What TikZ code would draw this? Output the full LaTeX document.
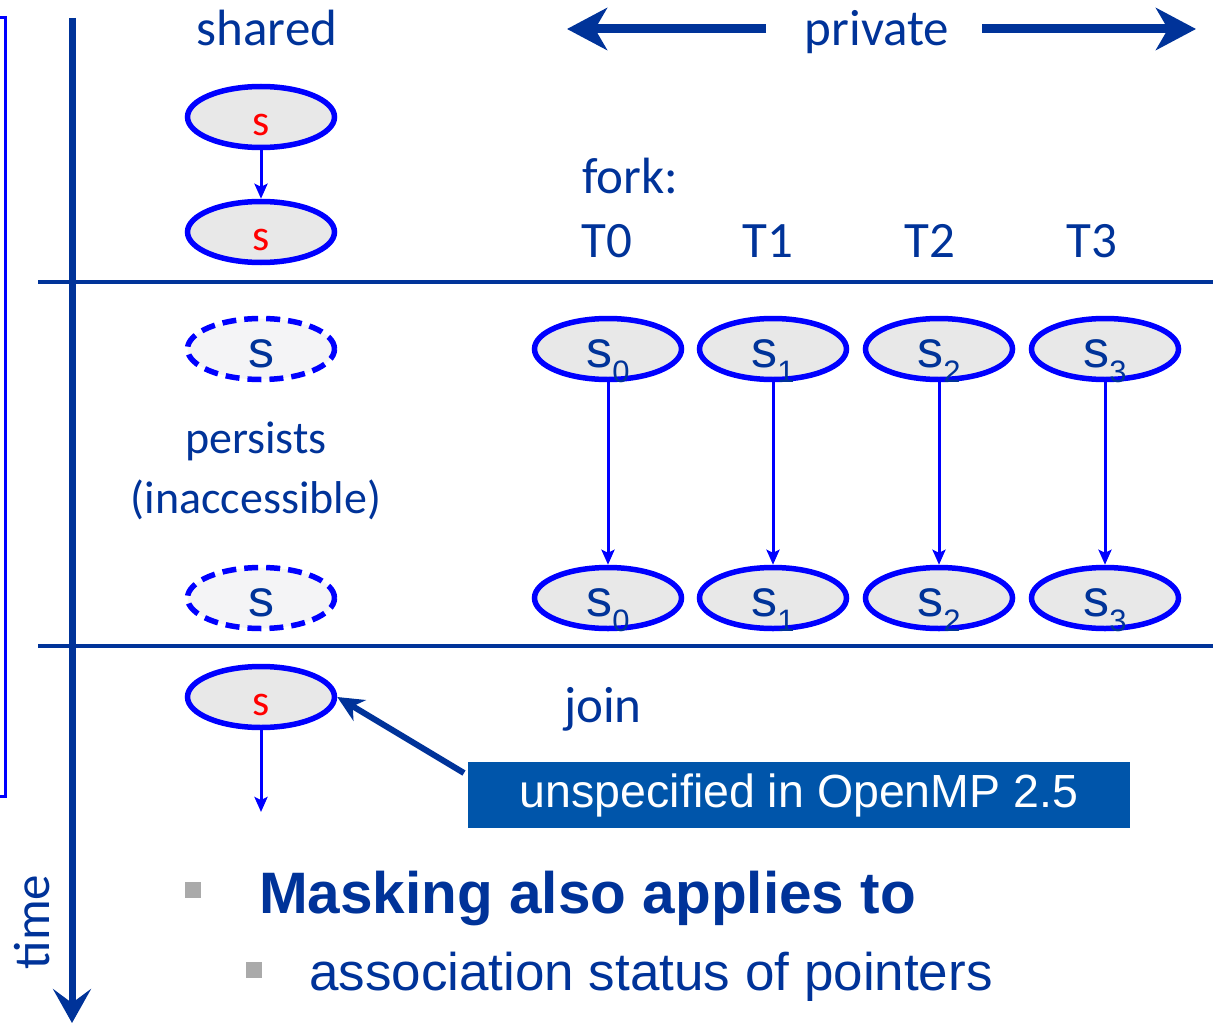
\documentclass[tikz,border=0pt]{standalone}
\usepackage{fontspec}
\usetikzlibrary{arrows.meta,shapes.geometric}
\newfontfamily\calfont{Carlito}
\newfontfamily\arifont{Liberation Sans}
\definecolor{navy}{RGB}{0,51,153}
\definecolor{boxblue}{RGB}{0,85,170}
\definecolor{cellgray}{RGB}{232,232,232}
\definecolor{ghostgray}{RGB}{244,244,246}
\definecolor{bulletgray}{RGB}{170,170,170}
\newcommand{\fsz}[1]{\fontsize{#1}{#1}\selectfont}
\newcommand{\idx}[1]{\smash{\raisebox{-15pt}{\fsz{31}#1}}}
\tikzset{
  var/.style={ellipse, draw=blue, line width=5.5pt, fill=cellgray,
    minimum width=147pt, minimum height=61pt, inner sep=0pt,
    text height=34pt, text depth=0pt},
  sharedvar/.style={var, text=red, font=\calfont\fsz{44}, text height=36pt},
  privvar/.style={var, text=navy, font=\arifont\fsz{52}, text height=36pt},
  ghostvar/.style={privvar, fill=ghostgray, dash pattern=on 14pt off 8pt},
  lbl/.style={text=navy, font=\calfont\fsz{51}, inner sep=0pt},
  flow/.style={draw=blue, line width=3pt, -{Stealth[length=15pt,width=13pt,inset=3pt]}},
  rule/.style={draw=navy, line width=4pt},
  widearrow/.style={draw=navy, line width=9pt, -{Stealth[length=40pt,width=42pt,inset=12pt]}},
}
\begin{document}
\begin{tikzpicture}[x=1pt,y=-1pt]
\useasboundingbox (0,0) rectangle (1213,1025);

% bracket on the far left
\draw[blue, line width=3pt] (0,18) -- (5,18) -- (5,796) -- (0,796);

% time axis
\coordinate (tstart) at (72,18);
\coordinate (tend) at (72,1023);
\draw[navy, line width=7pt, -{Stealth[length=34pt,width=38pt,inset=14pt]}] (tstart) -- (tend);
\node[lbl, rotate=90] (time) at (32,922) {time};

% phase separators
\coordinate (r1a) at (38,282); \coordinate (r1b) at (1213,282);
\coordinate (r2a) at (38,646); \coordinate (r2b) at (1213,646);
\draw[rule] (r1a) -- (r1b);
\draw[rule] (r2a) -- (r2b);

% column headings
\node[lbl, anchor=base] (shared) at (267,46) {shared};
\node[lbl, anchor=base] (private) at (877,46) {private};
\coordinate (plstart) at (766,29);
\coordinate (pl) at (567,29);
\coordinate (prstart) at (982,29);
\coordinate (pr) at (1196,29);
\draw[widearrow] (plstart) -- (pl);
\draw[widearrow] (prstart) -- (pr);

% shared variable before the fork
\node[sharedvar] (sh1) at (261,117) {s};
\node[sharedvar] (sh2) at (261,232) {s};
\draw[flow] (sh1) -- (sh2);

% fork labels
\node[lbl, anchor=base west] (fork) at (582,193) {fork:};
\node[lbl, anchor=base] (t0) at (607,257) {T0};
\node[lbl, anchor=base] (t1) at (768,257) {T1};
\node[lbl, anchor=base] (t2) at (930,257) {T2};
\node[lbl, anchor=base] (t3) at (1092,257) {T3};

% masked shared copy during the parallel region
\node[ghostvar] (g1) at (261,349) {s};
\node[ghostvar] (g2) at (261,598) {s};
\node[lbl, font=\calfont\fsz{46}, anchor=base] (persists) at (256,453) {persists};
\node[lbl, font=\calfont\fsz{46}, anchor=base] (inacc) at (256,513) {(inaccessible)};

% private copies per thread
\foreach \i/\x in {0/608,1/773,2/939,3/1105}{
  \node[privvar] (p\i a) at (\x,349) {s\idx{\i}};
  \node[privvar] (p\i b) at (\x,598) {s\idx{\i}};
  \draw[flow] (p\i a) -- (p\i b);
}

% after the join
\node[sharedvar] (shj) at (261,697) {s};
\coordinate (shjout) at (261,812);
\draw[flow] (shj) -- (shjout);
\node[lbl, anchor=base] (join) at (603,722) {join};

\node[fill=boxblue, text=white, font=\arifont\fsz{46.5}, minimum width=662pt,
  minimum height=66pt, inner sep=0pt] (note) at (799,795) {unspecified in OpenMP 2.5};
\coordinate (notefrom) at (464,773);
\draw[navy, line width=6pt, -{Stealth[length=26pt,width=24pt,inset=8pt]}]
  (notefrom) -- (shj.east);

% bullet list
\fill[bulletgray] (185,882) rectangle (201,898);
\node[text=navy, font=\arifont\bfseries\fsz{58.5}, anchor=base west, inner sep=0pt]
  (mask) at (259,913) {Masking also applies to};
\fill[bulletgray] (246,962) rectangle (262,978);
\node[text=navy, font=\arifont\fsz{53}, anchor=base west, inner sep=0pt]
  (assoc) at (309,990) {association status of pointers};
\end{tikzpicture}
\end{document}
